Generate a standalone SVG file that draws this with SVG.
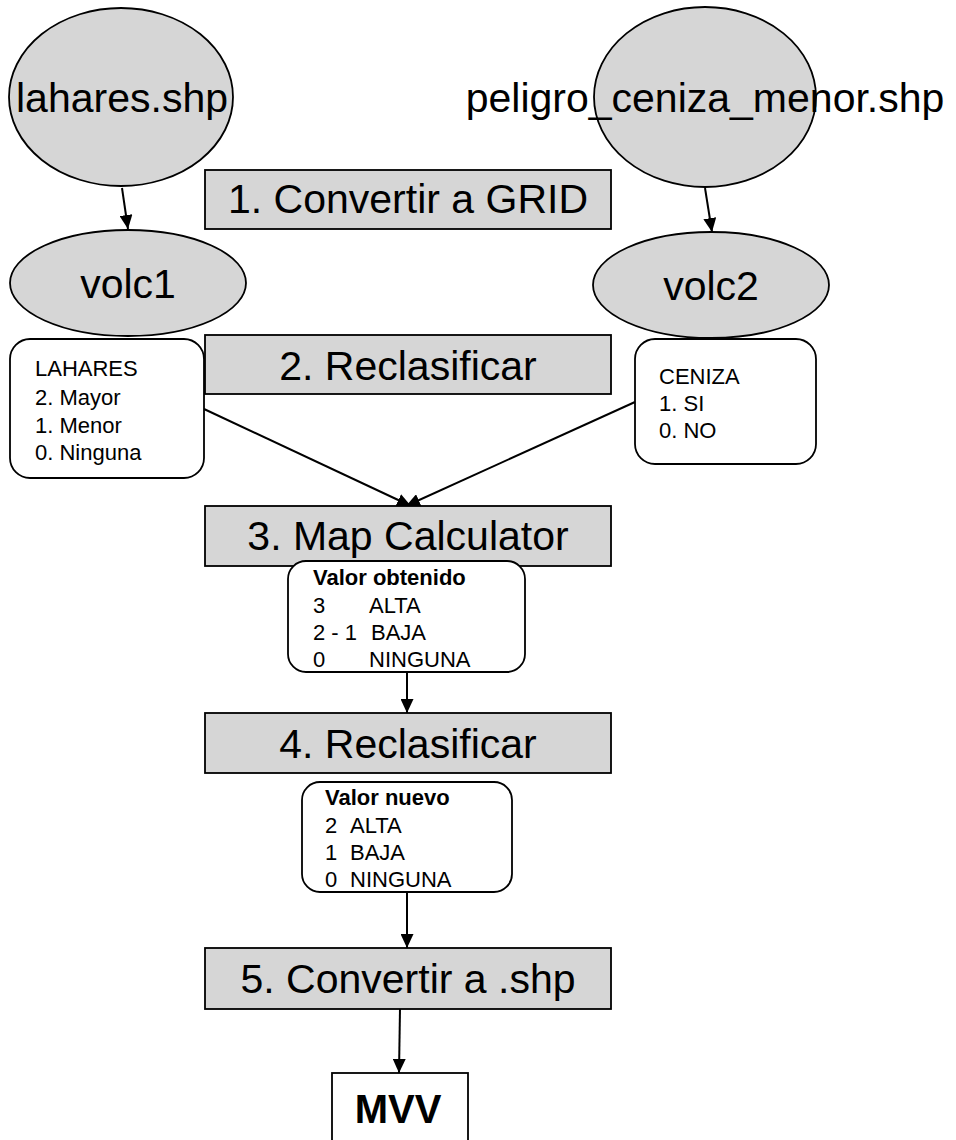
<svg xmlns="http://www.w3.org/2000/svg" width="956" height="1140" viewBox="0 0 956 1140">
  <style>
    .shape { fill: #d6d6d6; stroke: #000; stroke-width: 1.8; }
    .note { fill: #fff; stroke: #000; stroke-width: 1.8; }
    .big { font-family: "Liberation Sans", Arial, sans-serif; font-size: 41px; fill: #000; }
    .mid { font-family: "Liberation Sans", Arial, sans-serif; font-size: 22px; fill: #000; }
    .bold { font-weight: bold; }
    .edge { stroke: #000; stroke-width: 2; fill: none; marker-end: url(#arrow); }
  </style>
  <defs>
    <marker id="arrow" markerUnits="userSpaceOnUse" markerWidth="14" markerHeight="13" refX="14" refY="6.5" orient="auto">
      <path d="M0,0 L14,6.5 L0,13 Z" fill="#000"/>
    </marker>
  </defs>

  <rect x="0" y="0" width="956" height="1140" fill="#fff"/>

  <!-- connectors -->
  <g id="connectors">
    <line class="edge" x1="122" y1="188" x2="128" y2="229"/>
    <line class="edge" x1="705" y1="188" x2="712" y2="232"/>
    <line class="edge" x1="204" y1="409" x2="411" y2="506"/>
    <line class="edge" x1="635" y1="402" x2="406" y2="506"/>
    <line class="edge" x1="407" y1="672" x2="407" y2="713"/>
    <line class="edge" x1="407" y1="892" x2="407" y2="948"/>
    <line class="edge" x1="400" y1="1009" x2="399" y2="1073"/>
  </g>

  <!-- input layers -->
  <g id="lahares">
    <ellipse class="shape" cx="121" cy="97" rx="112" ry="89"/>
    <text class="big" x="122" y="112" text-anchor="middle">lahares.shp</text>
  </g>
  <g id="peligro">
    <ellipse class="shape" cx="705" cy="97" rx="111" ry="90"/>
    <text class="big" x="705" y="112" text-anchor="middle">peligro_ceniza_menor.shp</text>
  </g>

  <!-- step 1 -->
  <g id="step1">
    <rect class="shape" x="205" y="170" width="406" height="59"/>
    <text class="big" x="408" y="213" text-anchor="middle">1. Convertir a GRID</text>
  </g>

  <!-- grids -->
  <g id="volc1">
    <ellipse class="shape" cx="128" cy="283" rx="118" ry="53"/>
    <text class="big" x="128" y="298" text-anchor="middle">volc1</text>
  </g>
  <g id="volc2">
    <ellipse class="shape" cx="711" cy="285" rx="118" ry="53"/>
    <text class="big" x="711" y="300" text-anchor="middle">volc2</text>
  </g>

  <!-- step 2 -->
  <g id="step2">
    <rect class="shape" x="205" y="335" width="406" height="59"/>
    <text class="big" x="408" y="380" text-anchor="middle">2. Reclasificar</text>
  </g>

  <g id="lahares-classes">
    <rect class="note" x="10" y="339" width="194" height="139" rx="20" ry="20"/>
    <text class="mid" x="35" y="376">LAHARES</text>
    <text class="mid" x="35" y="405">2. Mayor</text>
    <text class="mid" x="35" y="433">1. Menor</text>
    <text class="mid" x="35" y="460">0. Ninguna</text>
  </g>

  <g id="ceniza-classes">
    <rect class="note" x="635" y="339" width="181" height="125" rx="20" ry="20"/>
    <text class="mid" x="659" y="384">CENIZA</text>
    <text class="mid" x="659" y="411">1. SI</text>
    <text class="mid" x="659" y="438">0. NO</text>
  </g>

  <!-- step 3 -->
  <g id="step3">
    <rect class="shape" x="205" y="506" width="406" height="60"/>
    <text class="big" x="408" y="550" text-anchor="middle">3. Map Calculator</text>
  </g>

  <g id="valor-obtenido">
    <rect class="note" x="288" y="561" width="237" height="111" rx="18" ry="18"/>
    <text class="mid bold" x="313" y="585">Valor obtenido</text>
    <text class="mid" x="313" y="613">3</text>
    <text class="mid" x="369" y="613">ALTA</text>
    <text class="mid" x="313" y="640">2 - 1</text>
    <text class="mid" x="371" y="640">BAJA</text>
    <text class="mid" x="313" y="667">0</text>
    <text class="mid" x="369" y="667">NINGUNA</text>
  </g>

  <!-- step 4 -->
  <g id="step4">
    <rect class="shape" x="205" y="713" width="406" height="60"/>
    <text class="big" x="408" y="758" text-anchor="middle">4. Reclasificar</text>
  </g>

  <g id="valor-nuevo">
    <rect class="note" x="302" y="782" width="210" height="110" rx="18" ry="18"/>
    <text class="mid bold" x="325" y="805">Valor nuevo</text>
    <text class="mid" x="325" y="833">2</text>
    <text class="mid" x="350" y="833">ALTA</text>
    <text class="mid" x="325" y="860">1</text>
    <text class="mid" x="350" y="860">BAJA</text>
    <text class="mid" x="325" y="887">0</text>
    <text class="mid" x="350" y="887">NINGUNA</text>
  </g>

  <!-- step 5 -->
  <g id="step5">
    <rect class="shape" x="205" y="948" width="406" height="61"/>
    <text class="big" x="408" y="993" text-anchor="middle">5. Convertir a .shp</text>
  </g>

  <!-- result -->
  <g id="mvv">
    <rect class="note" x="332" y="1073" width="136" height="100"/>
    <text class="big bold" x="398" y="1123" text-anchor="middle" style="font-size:40px">MVV</text>
  </g>
</svg>
